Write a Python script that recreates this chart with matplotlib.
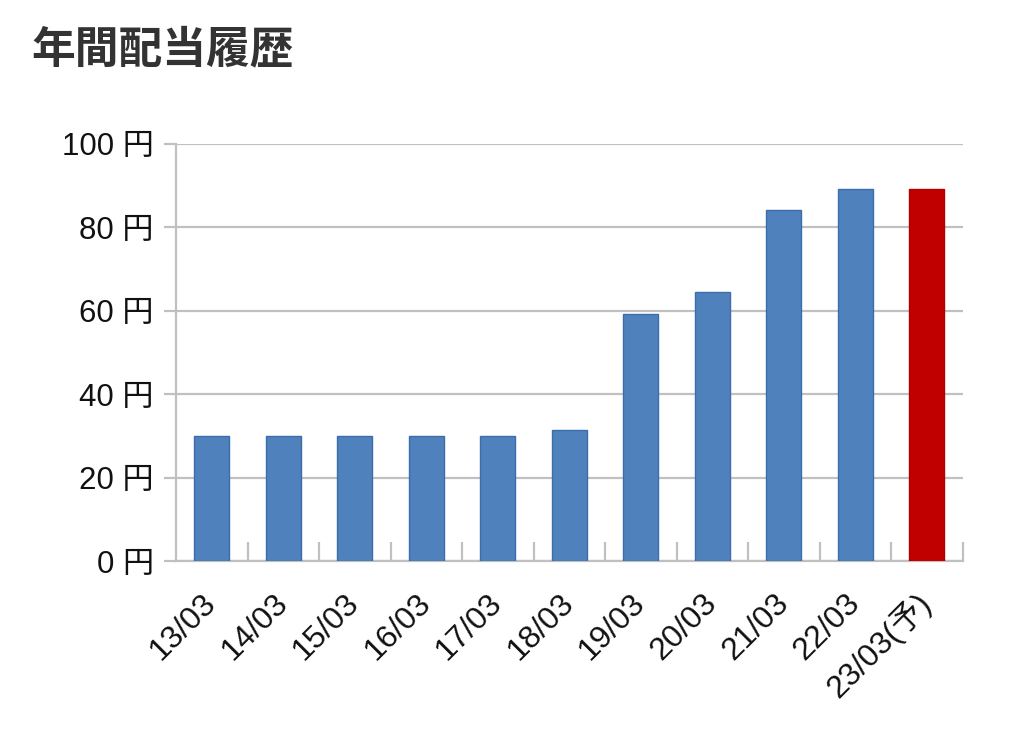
#!/usr/bin/env python3
# -*- coding: utf-8 -*-
"""年間配当履歴: 棒グラフ (最後の年は予想なので赤)"""

import matplotlib
matplotlib.use("Agg")
import matplotlib.pyplot as plt

plt.rcParams['font.family'] = ['Noto Sans CJK JP', 'DejaVu Sans']
LABEL_FONT = ['Liberation Sans', 'Noto Sans CJK JP']

# データ
periods = ['13/03', '14/03', '15/03', '16/03', '17/03', '18/03',
           '19/03', '20/03', '21/03', '22/03', '23/03(予)']
dividends = [30, 30, 30, 30, 30, 31.3, 59.3, 64.5, 84.2, 89.3, 89.3]
forecast = [False] * 10 + [True]
y_ticks = [0, 20, 40, 60, 80, 100]

BLUE = '#4F81BD'
BLUE_EDGE = '#3C6DAA'
RED = '#C00000'
RED_EDGE = '#B00000'
GRID = '#C0C0C0'


def main():
    fig = plt.figure(figsize=(10.24, 7.32), dpi=100)
    ax = fig.add_axes([0.172, 0.2336, 0.768, 0.5697])

    x = list(range(len(periods)))
    colors = [RED if f else BLUE for f in forecast]
    edges = [RED_EDGE if f else BLUE_EDGE for f in forecast]
    ax.bar(x, dividends, width=0.49, color=colors, edgecolor=edges,
           linewidth=1.0, zorder=3)

    # 軸の範囲と目盛り
    ax.set_xlim(-0.5, len(periods) - 0.5)
    ax.set_ylim(0, 100)
    ax.set_yticks(y_ticks)
    ax.set_yticklabels([f'{v} 円' for v in y_ticks], fontsize=22.5,
                       family=LABEL_FONT, color='#111111')
    ax.yaxis.grid(True, color=GRID, linewidth=1.6, zorder=0)
    ax.tick_params(axis='y', length=9, width=1.6, color=GRID, pad=7)

    # x 軸: ラベルは中央、区切り線は境界
    ax.set_xticks(x)
    ax.set_xticklabels(periods, rotation=45, ha='right', va='center',
                       rotation_mode='anchor', fontsize=23,
                       family=LABEL_FONT, color='#111111')
    ax.tick_params(axis='x', length=0, pad=27)
    ax.set_xticks([i + 0.5 for i in x], minor=True)
    ax.tick_params(axis='x', which='minor', direction='in', length=14,
                   width=1.6, color=GRID)

    for side in ['top', 'right']:
        ax.spines[side].set_visible(False)
    ax.spines['left'].set_color(GRID)
    ax.spines['left'].set_linewidth(1.6)
    ax.spines['bottom'].set_color(GRID)
    ax.spines['bottom'].set_linewidth(1.6)
    ax.set_axisbelow(True)

    fig.text(0.031, 0.932, '年間配当履歴', fontsize=31.5, fontweight='bold',
             color='#333333', ha='left', va='center')

    fig.savefig('out.png', dpi=100, facecolor='white')


if __name__ == "__main__":
    main()
